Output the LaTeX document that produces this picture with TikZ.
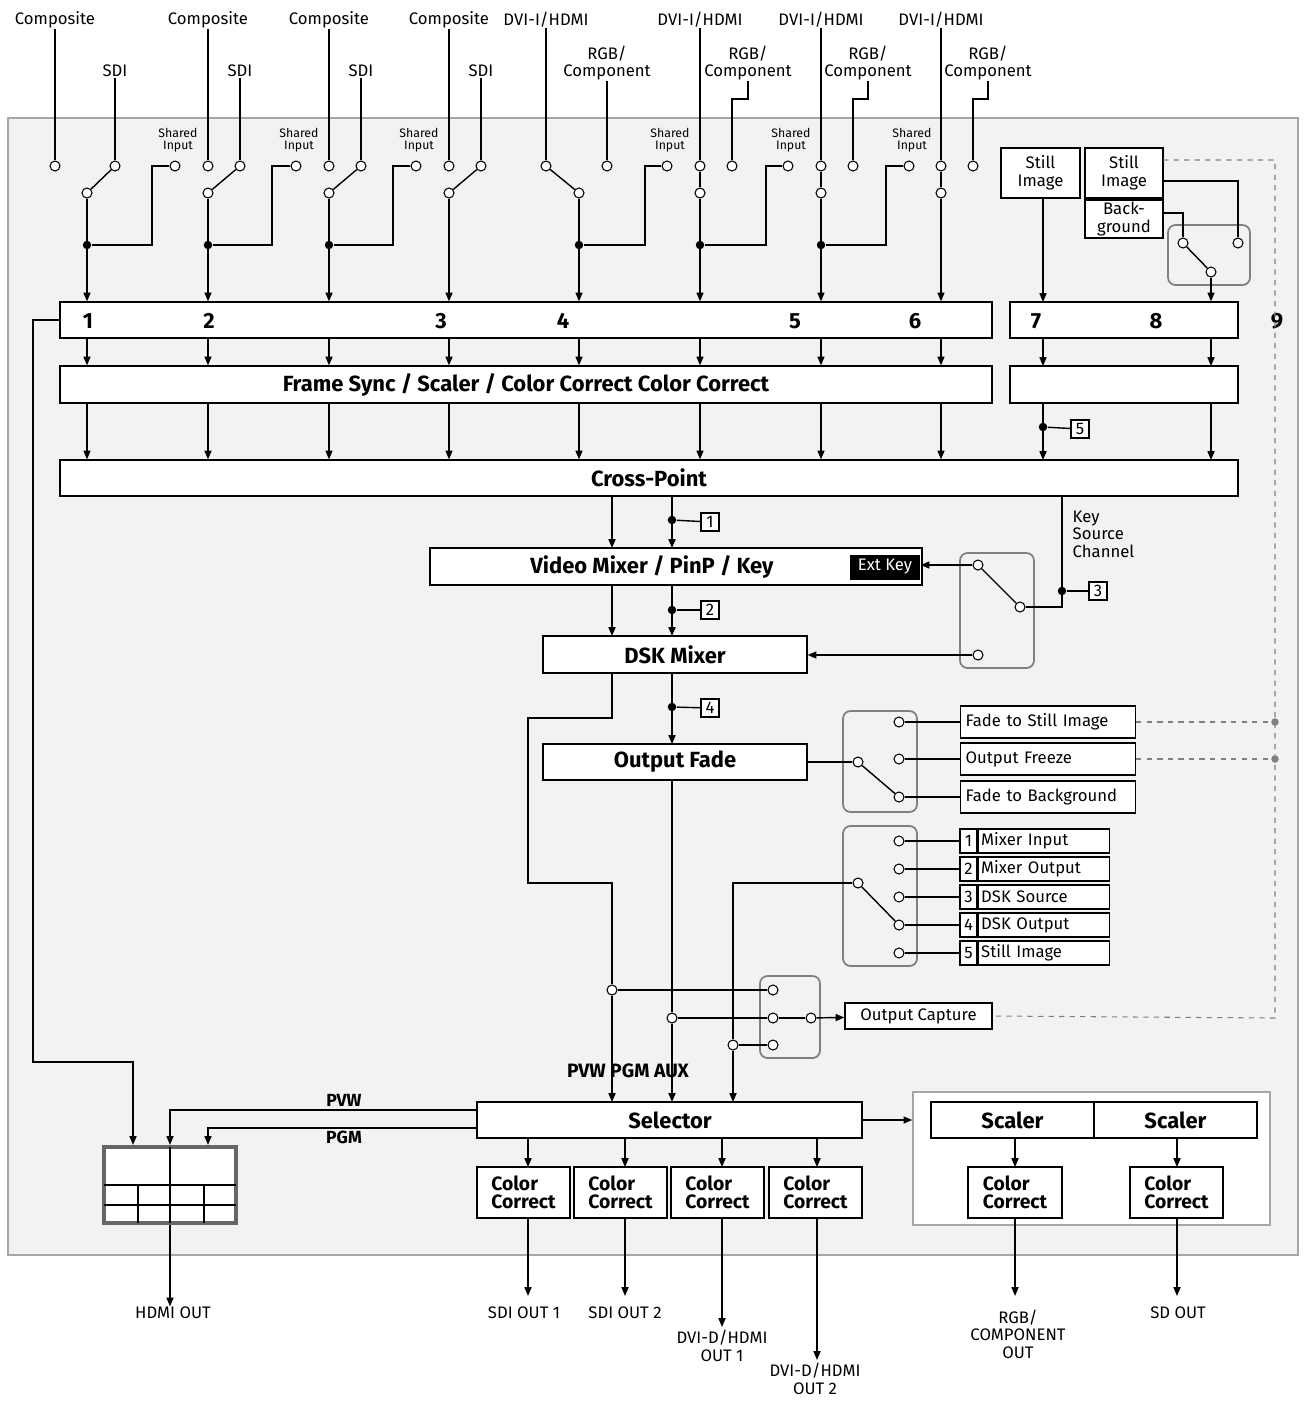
\documentclass[tikz,border=0pt]{standalone}
\usepackage{fontspec}
\setmainfont{Fira Sans}
\usetikzlibrary{arrows.meta,fit}
\tikzset{bx/.append style={draw, fill=white, inner sep=0pt, line width=0.7pt}}
\tikzset{tm/.append style={circle, draw, fill=white, minimum size=0.2cm, inner sep=0pt, line width=0.6pt}}
\tikzset{jd/.append style={circle, fill=black, minimum size=0.17cm, inner sep=0pt}}
\tikzset{sb/.append style={draw=gray, rounded corners=0.15cm, line width=1pt}}
\tikzset{ar/.append style={-{Triangle[length=5pt,width=4pt]}}}
\tikzset{lb/.append style={font=\fontsize{9.5}{10}\selectfont, align=center, inner sep=0pt}}
\tikzset{sm/.append style={font=\fontsize{7}{7}\selectfont, align=center, inner sep=0pt}}
\tikzset{hd/.append style={font=\bfseries\fontsize{12.5}{13}\selectfont, inner sep=0pt}}
\tikzset{cc/.append style={font=\bfseries\fontsize{11}{10.5}\selectfont, align=left, inner sep=0pt}}
\tikzset{nb/.append style={draw, fill=white, minimum size=0.36cm, inner sep=0pt, font=\fontsize{9.5}{10}\selectfont}}
\tikzset{dl/.append style={draw=gray, dashed, line width=0.6pt}}

\begin{document}
\begin{tikzpicture}[x=0.02cm, y=-0.02cm, line width=0.8pt]
  \useasboundingbox (0,0) rectangle (1304,1401);
  \draw[draw=gray!70, fill=gray!10, line width=1.2pt] (8,118) rectangle (1298,1255);

  % inputs 1-4
  \foreach \c/\p/\s/\n in {55/87/115/1, 208/208/240/2, 329/329/361/3, 449/449/481/4}{
    \node[lb] (lc\n) at (\c,20) {Composite};
    \node[lb] (ls\n) at (\s,71) {SDI};
    \node[tm] (tc\n) at (\c,166) {};
    \node[tm] (ts\n) at (\s,166) {};
    \node[tm] (tp\n) at (\p,193) {};
    \draw (lc\n.south) -- (tc\n);
    \draw (ls\n.south) -- (ts\n);
    \draw (tp\n) -- (ts\n);
  }
  % inputs 5-8
  \foreach \c/\r/\rl/\n in {546/607/607/5, 700/732/748/6, 821/853/868/7, 941/973/988/8}{
    \node[lb] (ld\n) at (\c,20) {DVI-I/HDMI};
    \node[lb] (lr\n) at (\rl,63) {RGB/\\Component};
    \node[tm] (tc\n) at (\c,166) {};
    \node[tm] (tr\n) at (\r,166) {};
    \draw (ld\n.south) -- (tc\n);
    \draw (lr\n.south) -- ++(0,18) -| (tr\n);
  }
  \node[tm] (tp5) at (579,193) {};
  \draw (tc5) -- (tp5);
  \foreach \n in {6,7,8}{
    \node[tm] (tp\n) at (tc\n |- tp5) {};
    \draw (tc\n) -- (tp\n);
  }
  % shared inputs
  \foreach \h/\k/\n in {175/152/1, 296/272/2, 416/393/3, 667/645/5, 788/766/6, 909/886/7}{
    \node[sm] at (\h+3,140) {Shared\\Input};
    \node[tm] (th\n) at (\h,166) {};
    \node[jd] (jd\n) at (tp\n |- 0,245) {};
    \draw (th\n.west) -- (\k,166) |- (jd\n);
  }

  % bars
  \node[bx, fit={(60,302) (992,338)}] (inbar) {};
  \node[bx, fit={(1010,302) (1238,338)}] (inbarb) {};
  \foreach \x/\t in {88/1, 209/2, 441/3, 563/4, 795/5, 915/6, 1036/7, 1156/8, 1277/9}
    \node[hd] at (\x,321) {\t};
  \node[bx, fit={(60,366) (992,403)}, label={[hd]center:Frame Sync / Scaler / Color Correct Color Correct}] (fsync) {};
  \node[bx, fit={(1010,366) (1238,403)}] (fsyncb) {};
  \node[bx, fit={(60,460) (1238,496)}, label={[hd]center:Cross-Point}] (xpt) {};
  \foreach \n in {1,...,8}{
    \draw[ar] (tp\n) -- (tp\n |- inbar.north);
    \draw[ar] (tp\n |- inbar.south) -- (tp\n |- fsync.north);
    \draw[ar] (tp\n |- fsync.south) -- (tp\n |- xpt.north);
  }
  \foreach \x in {1043,1211}{
    \draw[ar] (\x,338) -- (\x,366);
    \draw[ar] (\x,403) -- (\x,460);
  }
  \node[jd] (j5) at (1043,427) {};
  \node[nb] (n5) at (1080,429) {5};
  \draw (j5) -- (n5);

  % still images
  \node[bx, fit={(1001,148) (1080,198)}, label={[lb]center:{Still\\Image}}] (still1) {};
  \node[bx, fit={(1085,148) (1163,198)}, label={[lb]center:{Still\\Image}}] (still2) {};
  \node[bx, fit={(1085,200) (1163,238)}, label={[lb]center:{Back-\\ground}}] (bgnd) {};
  \draw[sb] (1168,225) rectangle (1250,285);
  \node[tm] (g1) at (1183,243) {};
  \node[tm] (g2) at (1238,243) {};
  \node[tm] (g0) at (1211,272) {};
  \draw (still2.east |- 0,181) -| (g2);
  \draw (bgnd.east |- 0,213) -| (g1);
  \draw (g1) -- (g0);
  \draw[ar] (g0) -- (g0 |- inbarb.north);
  \draw[ar] (still1.south -| 1043,0) -- (1043,302);

  % video mixer
  \node[bx, fit={(430,548) (922,585)}] (vmix) {};
  \node[hd] at (652,567) {Video Mixer / PinP / Key};
  \node[fill=black, text=white, minimum width=1.4cm, minimum height=0.5cm, inner sep=0pt, lb] (extkey) at (885,567) {Ext Key};
  \draw[ar] (612,496) -- (612,548);
  \draw[ar] (672,496) -- (672,548);
  \node[jd] (j1) at (672,520) {};
  \node[nb] (n1) at (710,522) {1};
  \draw (j1) -- (n1);
  \node[lb, anchor=north west, align=left] at (1072,510) {Key\\Source\\Channel};
  \draw[sb] (960,553) rectangle (1034,668);
  \node[tm] (k1) at (978,565) {};
  \node[tm] (k2) at (1020,607) {};
  \node[tm] (k3) at (978,655) {};
  \draw (1062,496) -- (1062,607) -- (k2);
  \node[jd] (j3) at (1062,591) {};
  \node[nb] (n3) at (1098,591) {3};
  \draw (j3) -- (n3);
  \draw (k1) -- (k2);
  \draw[ar] (k1) -- (extkey.east |- k1);

  % DSK mixer
  \node[bx, fit={(543,636) (807,673)}, label={[hd]center:DSK Mixer}] (dsk) {};
  \draw[ar] (k3) -- (dsk.east |- k3);
  \draw[ar] (612,585) -- (612,636);
  \draw[ar] (672,585) -- (672,636);
  \node[jd] (j2) at (672,610) {};
  \node[nb] (n2) at (710,610) {2};
  \draw (j2) -- (n2);

  % output fade
  \node[bx, fit={(543,744) (807,780)}, label={[hd]center:Output Fade}] (ofade) {};
  \draw[ar] (672,673) -- (672,744);
  \node[jd] (j4) at (672,707) {};
  \node[nb] (n4) at (710,708) {4};
  \draw (j4) -- (n4);
  \draw[sb] (843,711) rectangle (917,812);
  \node[tm] (f0) at (858,762) {};
  \draw (ofade.east |- f0) -- (f0);
  \foreach \y/\t/\n in {722/Fade to Still Image/1, 759/Output Freeze/2, 797/Fade to Background/3}{
    \node[tm] (f\n) at (899,\y) {};
    \node[bx, minimum width=3.5cm, minimum height=0.64cm, lb, anchor=west, text width=3.3cm, align=left] (fb\n) at (960,\y) {\t};
    \draw (f\n) -- (fb\n);
  }
  \draw (f0) -- (f3);

  % aux
  \draw[sb] (843,826) rectangle (917,966);
  \node[tm] (a0) at (858,883) {};
  \foreach \y/\t/\n in {841/Mixer Input/1, 869/Mixer Output/2, 897/DSK Source/3, 925/DSK Output/4, 953/Still Image/5}{
    \node[tm] (a\n) at (899,\y) {};
    \node[bx, minimum width=0.34cm, minimum height=0.48cm, lb] (an\n) at (968.5,\y) {\n};
    \node[bx, minimum width=2.62cm, minimum height=0.48cm, lb, anchor=west, text width=2.5cm, align=left] (ab\n) at (an\n.east) {\t};
    \draw (a\n) -- (an\n);
  }
  \draw (a0) -- (a4);

  % PVW PGM AUX lines
  \node[bx, fit={(477,1102) (862,1138)}] (sel) {};
  \node[hd] at (670,1120) {Selector};
  \node[tm] (o1) at (612,990) {};
  \node[tm] (o2) at (672,1018) {};
  \node[tm] (o3) at (733,1045) {};
  \draw (612,673) -- (612,718) -- (528,718) -- (528,883) -- (612,883) -- (o1);
  \draw[ar] (o1) -- (612,1102);
  \draw (672,780) -- (o2);
  \draw[ar] (o2) -- (672,1102);
  \draw (a0) -| (o3);
  \draw[ar] (o3) -- (733,1102);
  \node[font=\bfseries\fontsize{11}{11}\selectfont] at (628,1071) {PVW PGM AUX};

  % output capture
  \draw[sb] (760,976) rectangle (820,1058);
  \node[tm] (c1) at (773,990) {};
  \node[tm] (c2) at (773,1018) {};
  \node[tm] (c3) at (773,1045) {};
  \node[tm] (c0) at (811,1018) {};
  \node[bx, fit={(845,1003) (992,1029)}, label={[lb]center:Output Capture}] (ocap) {};
  \draw (o1) -- (c1);
  \draw (o2) -- (c2) -- (c0);
  \draw (o3) -- (c3);
  \draw[ar] (c0) -- (ocap);

  % dashed still image return
  \draw[dl] (1163,160) -- (1275,160) -- (1275,1018) -- (ocap.east);
  \foreach \n in {1,2}{
    \node[circle, fill=gray, minimum size=0.15cm, inner sep=0pt] (gd\n) at (fb\n.east -| 1275,0) {};
    \draw[dl] (fb\n) -- (gd\n);
  }

  % HDMI out
  \node[draw=gray!80!black, line width=2.4pt, fill=white, fit={(104,1147) (236,1223)}, inner sep=0pt] (hdmi) {};
  \draw[line width=0.6pt] (104,1185) -- (236,1185) (104,1205) -- (236,1205)
    (170,1147) -- (170,1223) (138,1185) -- (138,1223) (204,1185) -- (204,1223);
  \draw[ar] (inbar.west) -- (33,320) -- (33,1062) -| ([xshift=-0.74cm]hdmi.north);
  \draw[ar] (sel.west |- 0,1110) -| (hdmi.north);
  \draw[ar] (sel.west |- 0,1128) -| ([xshift=0.76cm]hdmi.north);
  \node[font=\bfseries\fontsize{10}{10}\selectfont] at (344,1100) {PVW};
  \node[font=\bfseries\fontsize{10}{10}\selectfont] at (344,1137) {PGM};
  \node[lb] (hdo) at (173,1313) {HDMI OUT};
  \draw[ar] (hdmi.south) -- (hdmi.south |- hdo.north);

  % color correct
  \foreach \a/\b/\x/\n in {477/570/528/1, 574/667/625/2, 671/764/722/3, 769/862/817/4}{
    \node[bx, fit={(\a,1167) (\b,1218)}, label={[cc]center:{Color\\Correct}}] (cc\n) {};
    \draw[ar] (\x,1138) -- (\x,1167);
  }
  \node[lb] (so1) at (524,1313) {SDI OUT 1};
  \node[lb] (so2) at (625,1313) {SDI OUT 2};
  \node[lb] (do1) at (722,1346) {DVI-D/HDMI\\OUT 1};
  \node[lb] (do2) at (815,1379) {DVI-D/HDMI\\OUT 2};
  \draw[ar] (528,1218) -- (528,1296);
  \draw[ar] (625,1218) -- (625,1296);
  \draw[ar] (722,1218) -- (722,1327);
  \draw[ar] (817,1218) -- (817,1360);

  % scalers
  \node[draw=gray!70, fill=white, fit={(913,1092) (1270,1225)}, inner sep=0pt] (scl) {};
  \draw[ar] (sel.east) -- (scl.west |- sel.east);
  \node[bx, fit={(931,1102) (1094,1138)}, label={[hd]center:Scaler}] (sc1) {};
  \node[bx, fit={(1094,1102) (1257,1138)}, label={[hd]center:Scaler}] (sc2) {};
  \node[bx, fit={(968,1167) (1062,1218)}, label={[cc]center:{Color\\Correct}}] (cc5) {};
  \node[bx, fit={(1130,1167) (1223,1218)}, label={[cc]center:{Color\\Correct}}] (cc6) {};
  \draw[ar] (1015,1138) -- (1015,1167);
  \draw[ar] (1177,1138) -- (1177,1167);
  \node[lb] (rgbo) at (1018,1334) {RGB/\\COMPONENT\\OUT};
  \node[lb] (sdo) at (1178,1313) {SD OUT};
  \draw[ar] (1015,1218) -- (1015,1296);
  \draw[ar] (1177,1218) -- (1177,1296);
\end{tikzpicture}
\end{document}
